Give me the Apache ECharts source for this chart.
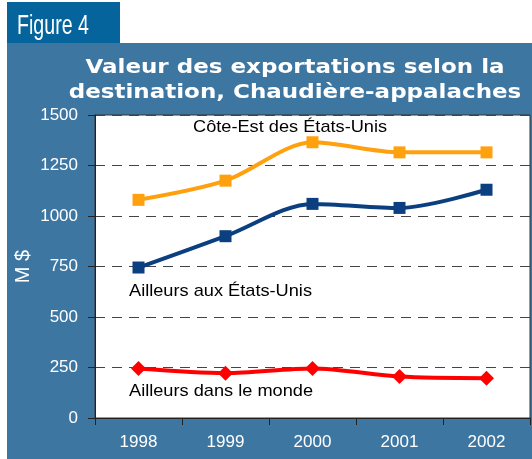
<!DOCTYPE html>
<html>
<head>
<meta charset="utf-8">
<script src="https://cdn.jsdelivr.net/npm/echarts@6/dist/echarts.min.js"></script>
<style>
  html, body { margin: 0; padding: 0; background: #fff; }
  #chart { width: 532px; height: 459px; }
</style>
</head>
<body>
<div id="chart"></div>
<script>
// data
const years = ['1998', '1999', '2000', '2001', '2002'];
const coteEst = [1080, 1175, 1365, 1315, 1315];
const ailleursUS = [745, 900, 1060, 1040, 1130];
const ailleursMonde = [245, 222, 245, 205, 197];

const chart = echarts.init(document.getElementById('chart'));

const labelFont = { font: '17px "Liberation Sans", Arial, sans-serif', fill: '#000', verticalAlign: 'middle' };

function caption(text, x, y) {
    return { type: 'text', x: x, y: y, z: 50, scaleX: 1.07, style: Object.assign({ text: text }, labelFont) };
}

const option = {
    animation: false,
    backgroundColor: '#fff',
    grid: {
        left: 95,
        top: 115,
        right: 2,
        bottom: 41,
        show: true,
        backgroundColor: '#fff',
        borderColor: '#333',
        borderWidth: 1
    },
    graphic: [
        // panel backgrounds
        { type: 'rect', z: -10, shape: { x: 7, y: 43, width: 525, height: 416 }, style: { fill: '#3e76a2' } },
        { type: 'rect', z: -9, shape: { x: 7, y: 2, width: 113, height: 41 }, style: { fill: '#05649c' } },
        {
            type: 'text', x: 17, y: 26, scaleX: 0.7,
            style: {
                text: 'Figure 4', fill: '#fff',
                font: '28px "Liberation Sans", Arial, sans-serif',
                verticalAlign: 'middle'
            }
        },
        {
            type: 'text', x: 295, y: 80, scaleX: 1.15,
            style: {
                text: 'Valeur des exportations selon la\ndestination, Chaudière-appalaches',
                fill: '#fff',
                font: 'bold 20px "DejaVu Sans", sans-serif',
                align: 'center', verticalAlign: 'middle', lineHeight: 25
            }
        },
        // series captions
        caption('Côte-Est des États-Unis', 193, 127),
        caption('Ailleurs aux États-Unis', 129, 291),
        caption('Ailleurs dans le monde', 129, 391)
    ],
    xAxis: {
        type: 'category',
        data: years,
        boundaryGap: true,
        axisLine: { lineStyle: { color: '#222', width: 1 } },
        axisTick: { show: true, length: 7, lineStyle: { color: '#222' } },
        axisLabel: { color: '#fff', fontSize: 17, fontFamily: 'Liberation Sans, Arial', margin: 16 }
    },
    yAxis: {
        type: 'value',
        min: 0,
        max: 1500,
        interval: 250,
        name: 'M $',
        nameLocation: 'middle',
        nameRotate: 90,
        nameGap: 62,
        nameMoveOverlap: false,
        nameTextStyle: { color: '#fff', fontSize: 20, fontFamily: 'Liberation Sans, Arial' },
        axisLine: { show: true, lineStyle: { color: '#222', width: 1 } },
        axisTick: { show: true, length: 7, lineStyle: { color: '#222' } },
        axisLabel: {
            color: '#fff', fontSize: 17, fontFamily: 'Liberation Sans, Arial', margin: 17,
            formatter: function (v) { return String(v); }
        },
        splitLine: { show: true, lineStyle: { color: '#444', type: [10, 7], width: 1 } }
    },
    series: [
        {
            name: 'Côte-Est des États-Unis',
            type: 'line',
            data: coteEst,
            smooth: 0.3,
            symbol: 'rect',
            symbolSize: 12,
            itemStyle: { color: '#ffa00f' },
            lineStyle: { width: 4, color: '#ffa00f' }
        },
        {
            name: 'Ailleurs aux États-Unis',
            type: 'line',
            data: ailleursUS,
            smooth: 0.3,
            symbol: 'rect',
            symbolSize: 12,
            itemStyle: { color: '#0b3f80' },
            lineStyle: { width: 4, color: '#0b3f80' }
        },
        {
            name: 'Ailleurs dans le monde',
            type: 'line',
            data: ailleursMonde,
            smooth: 0.3,
            symbol: 'diamond',
            symbolSize: 15,
            itemStyle: { color: '#ff0000' },
            lineStyle: { width: 4, color: '#ff0000' }
        }
    ]
};

chart.setOption(option);
</script>
</body>
</html>
